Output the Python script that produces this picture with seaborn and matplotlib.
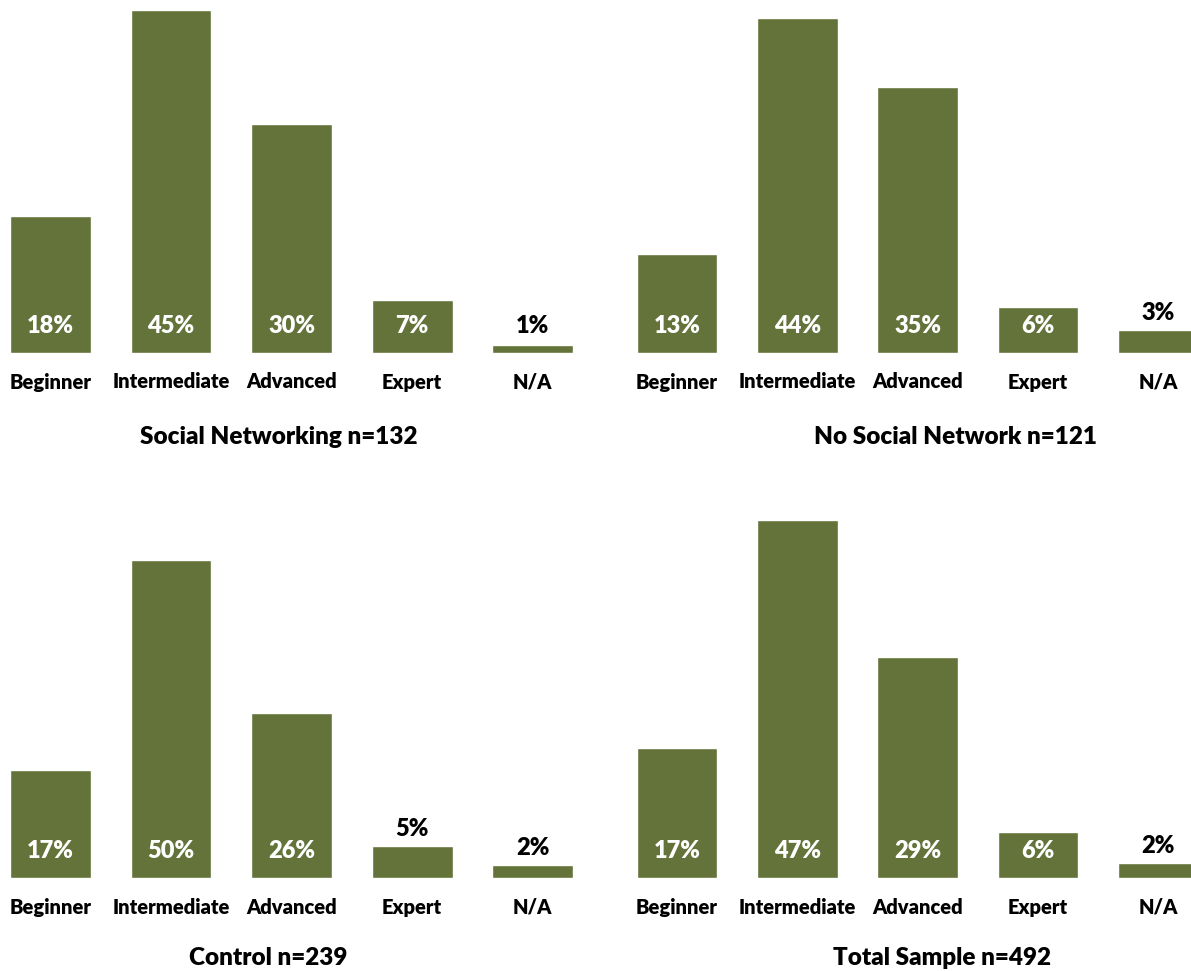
import matplotlib
matplotlib.use("Agg")
import matplotlib.pyplot as plt
import seaborn as sns
import pandas as pd

sns.set_style("white")
plt.rcParams["font.family"] = ["Lato", "DejaVu Sans"]
plt.rcParams["font.weight"] = "bold"

# Skill levels and the share of respondents in each group (percent)
levels = ["Beginner", "Intermediate", "Advanced", "Expert", "N/A"]
social_networking = [18, 45, 30, 7, 1]
no_social_network = [13, 44, 35, 6, 3]
control = [17, 50, 26, 5, 2]
total_sample = [17, 47, 29, 6, 2]

titles = ["Social Networking n=132", "No Social Network n=121",
          "Control n=239", "Total Sample n=492"]

BAR = "#637339"
W, H, DPI = 1191, 971, 100
PT = 72 / DPI  # points per pixel

fig = plt.figure(figsize=(W / DPI, H / DPI), dpi=DPI)


def add_axes_px(x0, x1, ytop, ybase):
    return fig.add_axes([x0 / W, 1 - ybase / H, (x1 - x0) / W, (ybase - ytop) / H])


# panel geometry: pixel box, x limits, y limit, title centre
panels = [
    (social_networking, (0, 593, 0, 353), (-0.419, 4.50), 46.3, (279, 437)),
    (no_social_network, (600, 1191, 0, 353), (-0.64, 4.273), 46.4, (956, 437)),
    (control, (0, 593, 500, 878), (-0.419, 4.50), 59.4, (268, 958)),
    (total_sample, (600, 1191, 500, 878), (-0.64, 4.273), 49.6, (942, 958)),
]

for (values, box, xl, ytop, tpos), title in zip(panels, titles):
    ax = add_axes_px(*box)
    df = pd.DataFrame({"level": levels, "pct": values})
    sns.barplot(data=df, x="level", y="pct", color=BAR, width=0.67,
                saturation=1, ax=ax)
    ax.set_xlim(*xl)
    ax.set_ylim(0, ytop)
    ax.axis("off")
    ax_h = box[3] - box[2]
    for i, v in enumerate(values):
        bar_px = v / ytop * ax_h
        if bar_px > 40:
            off, col = 27, "white"
        else:
            off, col = max(27, bar_px + 17), "black"
        ax.annotate(f"{v}%", xy=(i, 0), xytext=(0, off * PT),
                    textcoords="offset points", ha="center", va="center",
                    color=col, fontsize=17, fontweight="heavy",
                    annotation_clip=False)
        ax.annotate(levels[i], xy=(i, 0), xytext=(0, -29 * PT),
                    textcoords="offset points", ha="center", va="center",
                    color="black", fontsize=14.5, fontweight="heavy",
                    annotation_clip=False)
    fig.text(tpos[0] / W, 1 - tpos[1] / H, title, ha="center", va="center",
             fontsize=17.5, fontweight="heavy", color="black")

fig.savefig("out.png", dpi=DPI, facecolor="white")
